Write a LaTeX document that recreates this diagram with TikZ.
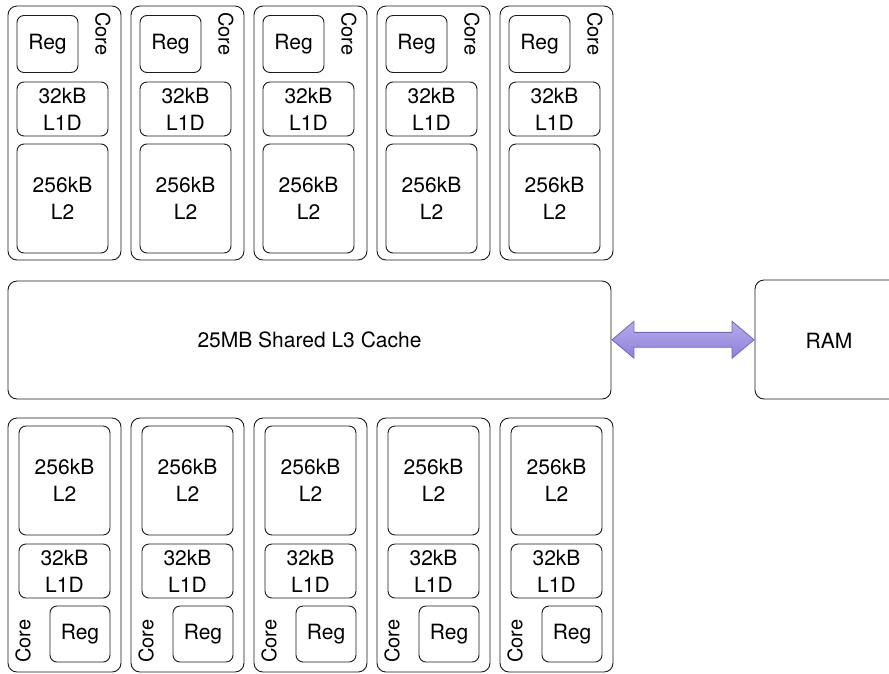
\documentclass[tikz,border=0pt]{standalone}
\usepackage{fontspec}
\setmainfont{TeX Gyre Heros}
\definecolor{mBoxLine}{HTML}{1A1A1A}
\definecolor{mArrowTop}{HTML}{B5ABEE}
\definecolor{mArrowBot}{HTML}{8E80D8}
\definecolor{mArrowEdge}{HTML}{7163C0}
\usetikzlibrary{calc,shapes.arrows}

\begin{document}
\begin{tikzpicture}[x=1pt, y=-1pt, font=\fontsize{21}{27}\selectfont,
  box/.style={draw=mBoxLine, line width=0.9pt, rounded corners=7pt, inner sep=0pt, outer sep=0pt, align=center},
  corebox/.style={box, rounded corners=9pt, minimum width=113pt, minimum height=254pt},
  regbox/.style={box, minimum width=61pt, minimum height=57pt},
  lonebox/.style={box, minimum width=91pt, minimum height=54pt},
  ltwobox/.style={box, minimum width=91pt, minimum height=109pt},
  corelabel/.style={font=\fontsize{20}{24}\selectfont, inner sep=0pt}]
\clip (0,0) rectangle (889,673);
% top row of cores
\foreach \i [evaluate=\i as \xo using 8+123*\i] in {0,...,4} {
  \node[corebox] (tcore\i) at (\xo+56.5,133) {};
  \node[regbox] (treg\i) at (\xo+39.5,44) {Reg};
  \node[lonebox] (tlone\i) at (\xo+54.5,109) {32kB\\L1D};
  \node[ltwobox] (tltwo\i) at (\xo+54.5,198.5) {256kB\\L2};
  \node[corelabel, rotate=-90] (tname\i) at (\xo+95,34) {Core};
}
% shared cache and memory
\node[box, rounded corners=9pt, minimum width=603pt, minimum height=118pt] (l3) at (309.5,340) {25MB Shared L3 Cache};
\node[box, rounded corners=9pt, minimum width=150pt, minimum height=119pt] (ram) at (830,339.5) {};
\node (ramtext) at (829,341) {RAM};
\path let \p1=(l3.east), \p2=(ram.west) in
  node[double arrow, draw=mArrowEdge, line width=0.8pt, top color=mArrowTop, bottom color=mArrowBot,
       inner xsep=0pt, inner ysep=7pt, double arrow head extend=11pt, double arrow tip angle=80,
       minimum height={\x2-\x1-2pt}] (bus) at ($(\p1)!0.5!(\p2)$) {};
% bottom row of cores
\foreach \i [evaluate=\i as \xo using 8+123*\i] in {0,...,4} {
  \node[corebox] (bcore\i) at (\xo+56.5,545) {};
  \node[ltwobox] (bltwo\i) at (\xo+56.5,480.5) {256kB\\L2};
  \node[lonebox] (blone\i) at (\xo+56.5,571) {32kB\\L1D};
  \node[regbox, minimum width=60pt, minimum height=56pt] (breg\i) at (\xo+72,634) {Reg};
  \node[corelabel, rotate=90] (bname\i) at (\xo+15,641) {Core};
}
\end{tikzpicture}
\end{document}
